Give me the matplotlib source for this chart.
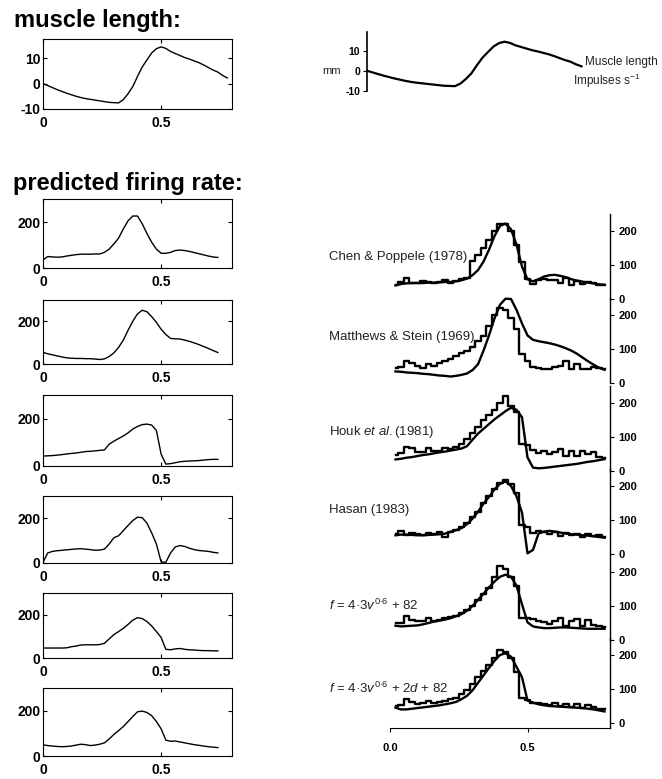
import numpy as np
import matplotlib
matplotlib.use('Agg')
import matplotlib.pyplot as plt

plt.rcParams['font.family'] = ['Liberation Sans', 'DejaVu Sans']
plt.rcParams['mathtext.fontset'] = 'custom'
plt.rcParams['mathtext.rm'] = 'Liberation Sans'
plt.rcParams['mathtext.it'] = 'Liberation Sans:italic'
plt.rcParams['axes.unicode_minus'] = False

W, H = 662, 779

# ---- data ----
t_len = np.round(np.arange(0, 0.781, 0.02), 2)     # muscle length time (s)
t_model = np.round(np.arange(0, 0.741, 0.02), 2)   # left model curves
t_exp = np.round(np.arange(0.02, 0.781, 0.02), 2)  # right (published) traces

length_mm = [0, -0.8, -1.6, -2.4, -3.1, -3.8, -4.4, -5.0, -5.5, -5.9, -6.2, -6.5, -6.8, -7.1,
             -7.4, -7.5, -7.6, -6.3, -4.0, -1.2, 2.8, 6.5, 9.3, 12.0, 13.7, 14.4, 13.8, 12.6,
             11.8, 11.0, 10.2, 9.6, 8.9, 8.2, 7.3, 6.3, 5.3, 4.5, 3.2, 2.2]

model_chen = [35, 50, 48, 47, 48, 52, 55, 58, 60, 60, 60, 61, 61, 68, 82, 105, 130, 170, 205,
              226, 226, 192, 150, 112, 82, 64, 64, 68, 76, 78, 76, 72, 67, 62, 57, 52, 48, 46]
model_ms = [54, 48, 43, 38, 33, 29, 27, 26, 26, 25, 25, 23, 21, 24, 35, 52, 78, 112, 158, 200,
            235, 252, 245, 222, 195, 163, 138, 120, 118, 117, 112, 106, 99, 91, 82, 73, 63, 54]
model_houk = [42, 43, 44, 46, 48, 51, 53, 55, 58, 61, 62, 64, 66, 68, 92, 105, 116, 127, 140,
              156, 167, 175, 177, 173, 150, 50, 8, 10, 14, 18, 20, 21, 22, 23, 25, 27, 28, 28]
model_hasan = [3, 45, 52, 55, 57, 59, 61, 63, 64, 62, 60, 57, 58, 62, 85, 113, 122, 145, 168,
               190, 205, 203, 178, 135, 85, 5, 3, 45, 72, 78, 74, 66, 60, 56, 54, 52, 48, 45]
model_f1 = [46, 46, 46, 46, 46, 47, 52, 55, 60, 61, 61, 61, 62, 68, 88, 108, 122, 137, 155,
            175, 186, 182, 168, 148, 122, 95, 40, 38, 42, 44, 40, 38, 37, 35, 34, 34, 33, 33]
model_f2 = [49, 46, 44, 42, 41, 42, 44, 48, 52, 50, 46, 48, 52, 58, 75, 95, 112, 130, 152,
            174, 195, 198, 192, 178, 152, 120, 70, 65, 66, 62, 58, 54, 50, 47, 44, 41, 39, 37]

chen_fit = [40, 44, 46, 47, 47, 47, 48, 48, 49, 50, 50, 52, 55, 60, 70, 85, 110, 145, 185, 215,
            222, 205, 160, 95, 58, 52, 58, 66, 70, 71, 68, 64, 58, 54, 51, 48, 46, 43, 42]
chen_data = [42, 50, 62, 48, 47, 52, 50, 47, 50, 55, 48, 52, 58, 62, 112, 130, 150, 175, 200,
             222, 220, 200, 160, 110, 60, 45, 55, 60, 55, 56, 48, 62, 42, 52, 45, 50, 47, 42, 40]
ms_fit = [34, 33, 31, 30, 29, 27, 26, 24, 22, 21, 19, 21, 24, 28, 38, 55, 95, 140, 190, 230,
          248, 247, 215, 175, 140, 127, 123, 120, 117, 113, 108, 102, 95, 86, 75, 64, 54, 45, 39]
ms_data = [44, 48, 65, 60, 50, 45, 55, 50, 58, 65, 70, 78, 88, 95, 105, 125, 138, 168, 200,
           222, 215, 190, 160, 85, 65, 48, 44, 40, 42, 48, 50, 65, 40, 55, 40, 42, 48, 45, 42]
houk_fit = [34, 36, 39, 41, 44, 47, 49, 52, 55, 57, 60, 63, 66, 73, 92, 110, 124, 138, 152,
            164, 176, 186, 180, 158, 40, 10, 8, 9, 11, 13, 15, 17, 19, 21, 24, 27, 29, 32, 35]
houk_data = [47, 52, 72, 68, 57, 57, 67, 60, 60, 67, 65, 72, 80, 95, 112, 130, 150, 165, 180,
             200, 220, 190, 175, 80, 76, 62, 52, 60, 50, 55, 65, 45, 60, 45, 58, 50, 55, 42, 38]
hasan_fit = [55, 57, 57, 56, 55, 55, 56, 57, 58, 60, 65, 70, 76, 88, 104, 124, 148, 168, 190,
             206, 214, 200, 170, 122, 2, 12, 60, 66, 68, 66, 63, 60, 58, 57, 55, 54, 52, 50, 48]
hasan_data = [60, 68, 55, 62, 58, 55, 62, 58, 65, 50, 65, 72, 80, 92, 110, 125, 150, 170, 190,
              210, 218, 205, 180, 85, 80, 62, 68, 65, 60, 66, 52, 62, 55, 60, 50, 58, 52, 55, 50]
f1_fit = [42, 40, 41, 42, 43, 46, 50, 54, 57, 60, 64, 70, 76, 86, 100, 118, 136, 155, 172,
          186, 192, 186, 160, 105, 52, 40, 37, 35, 35, 36, 37, 37, 36, 35, 34, 33, 33, 33, 33]
f1_data = [50, 50, 70, 60, 55, 55, 65, 57, 58, 65, 68, 72, 80, 88, 100, 118, 135, 152, 185,
           218, 210, 186, 160, 66, 64, 62, 55, 52, 48, 55, 65, 42, 55, 62, 42, 58, 45, 40, 38]
f2_fit = [45, 40, 40, 42, 44, 46, 48, 50, 52, 55, 58, 62, 70, 80, 96, 118, 140, 162, 183,
          200, 205, 195, 165, 135, 66, 60, 55, 52, 50, 49, 48, 47, 46, 45, 44, 42, 40, 37, 34]
f2_data = [50, 52, 70, 62, 55, 58, 66, 58, 62, 66, 70, 75, 85, 98, 115, 135, 152, 170, 190,
           216, 208, 192, 150, 75, 68, 58, 60, 55, 52, 60, 50, 55, 48, 55, 45, 52, 48, 42, 40]

models = [model_chen, model_ms, model_houk, model_hasan, model_f1, model_f2]
fits = [chen_fit, ms_fit, houk_fit, hasan_fit, f1_fit, f2_fit]
datas = [chen_data, ms_data, houk_data, hasan_data, f1_data, f2_data]
names = ['Chen & Poppele (1978)', 'Matthews & Stein (1969)', r'Houk $et\ al.$(1981)',
         'Hasan (1983)', r'$f$ = 4·3$v^{0{\cdot}6}$ + 82', r'$f$ = 4·3$v^{0{\cdot}6}$ + 2$d$ + 82']
name_y = [124, 135, 115, 129, 103, 103]

fig = plt.figure(figsize=(W / 100, H / 100), dpi=100)


def px_axes(left, top, right, bottom):
    return fig.add_axes([left / W, 1 - bottom / H, (right - left) / W, (bottom - top) / H])


def bold_ticks(ax):
    for lbl in ax.get_xticklabels() + ax.get_yticklabels():
        lbl.set_fontweight('bold')


# ---- left column ----
fig.text(14 / W, 1 - 27 / H, 'muscle length:', fontsize=17, fontweight='bold', va='baseline')
fig.text(13 / W, 1 - 190 / H, 'predicted firing rate:', fontsize=17, fontweight='bold',
         va='baseline')

ax = px_axes(43, 39, 232, 109)
ax.plot(t_len, length_mm, color='k', lw=1.0)
ax.set_xlim(0, 0.8)
ax.set_ylim(-10, 17.5)
ax.set_yticks([-10, 0, 10])
ax.set_xticks([0, 0.5])
ax.set_xticklabels(['0', '0.5'])
ax.tick_params(direction='in', top=True, right=True, length=3, labelsize=10)
ax.tick_params(axis='x', pad=5)
ax.tick_params(axis='y', pad=2)
bold_ticks(ax)

tops = [199, 300, 395, 496, 593, 688]
bots = [268, 364, 466, 563, 658, 756]
for i in range(6):
    ax = px_axes(43, tops[i], 232, bots[i])
    ax.plot(t_model, models[i], color='k', lw=1.0)
    ax.set_xlim(0, 0.8)
    ax.set_ylim(0, 300)
    ax.set_yticks([0, 200])
    ax.set_xticks([0, 0.5])
    ax.set_xticklabels(['0', '0.5'])
    ax.tick_params(direction='in', top=True, right=True, length=3, labelsize=10)
    ax.tick_params(axis='x', pad=5)
    ax.tick_params(axis='y', pad=2)
    bold_ticks(ax)

# ---- right column: muscle length trace ----
ax = px_axes(367, 32.4, 587, 91)
ax.plot(t_len, length_mm, color='k', lw=1.6, clip_on=False)
ax.set_xlim(0, 0.8)
ax.set_ylim(-10, 19)
for s in ['top', 'right', 'bottom']:
    ax.spines[s].set_visible(False)
ax.spines['left'].set_linewidth(1.2)
ax.set_xticks([])
ax.set_yticks([-10, 0, 10])
ax.tick_params(axis='y', direction='out', length=3, labelsize=7.5, pad=2)
bold_ticks(ax)
ax.patch.set_visible(False)
ax.text(-0.095, 0, 'mm', transform=ax.transData, fontsize=8, ha='right', va='center',
        color='#222')
fig.text(585 / W, 1 - 62 / H, 'Muscle length', fontsize=8.5, va='center', color='#222')
fig.text(573 / W, 1 - 81 / H, 'Impulses s$^{-1}$', fontsize=8.5, va='center', color='#222')

# ---- right column: published traces ----
zeros = [299, 383, 471, 554, 640, 723]
for i in range(6):
    z = zeros[i]
    ylo = -15 if i == 5 else 0
    bottom = z - ylo * 85 / 250
    ax = px_axes(390, z - 85, 610, bottom)
    ax.step(t_exp, datas[i], where='mid', color='k', lw=1.7, clip_on=False)
    ax.plot(t_exp, fits[i], color='k', lw=1.7, clip_on=False)
    ax.set_xlim(0, 0.8)
    ax.set_ylim(ylo, 250)
    ax.patch.set_visible(False)
    for s in ['top', 'left']:
        ax.spines[s].set_visible(False)
    ax.spines['right'].set_linewidth(1.0)
    ax.yaxis.tick_right()
    ax.set_yticks([0, 100, 200])
    ax.tick_params(axis='y', direction='out', length=3, labelsize=8, pad=3)
    if i == 5:
        ax.set_xticks([0, 0.5])
        ax.set_xticklabels(['0.0', '0.5'])
        ax.tick_params(axis='x', direction='out', length=3, labelsize=8, pad=8)
    else:
        ax.spines['bottom'].set_visible(False)
        ax.set_xticks([])
    bold_ticks(ax)
    ax.text(-0.222, name_y[i], names[i], transform=ax.transData, fontsize=9.5,
            ha='left', va='center', color='#222')

fig.savefig('out.png', dpi=100)
